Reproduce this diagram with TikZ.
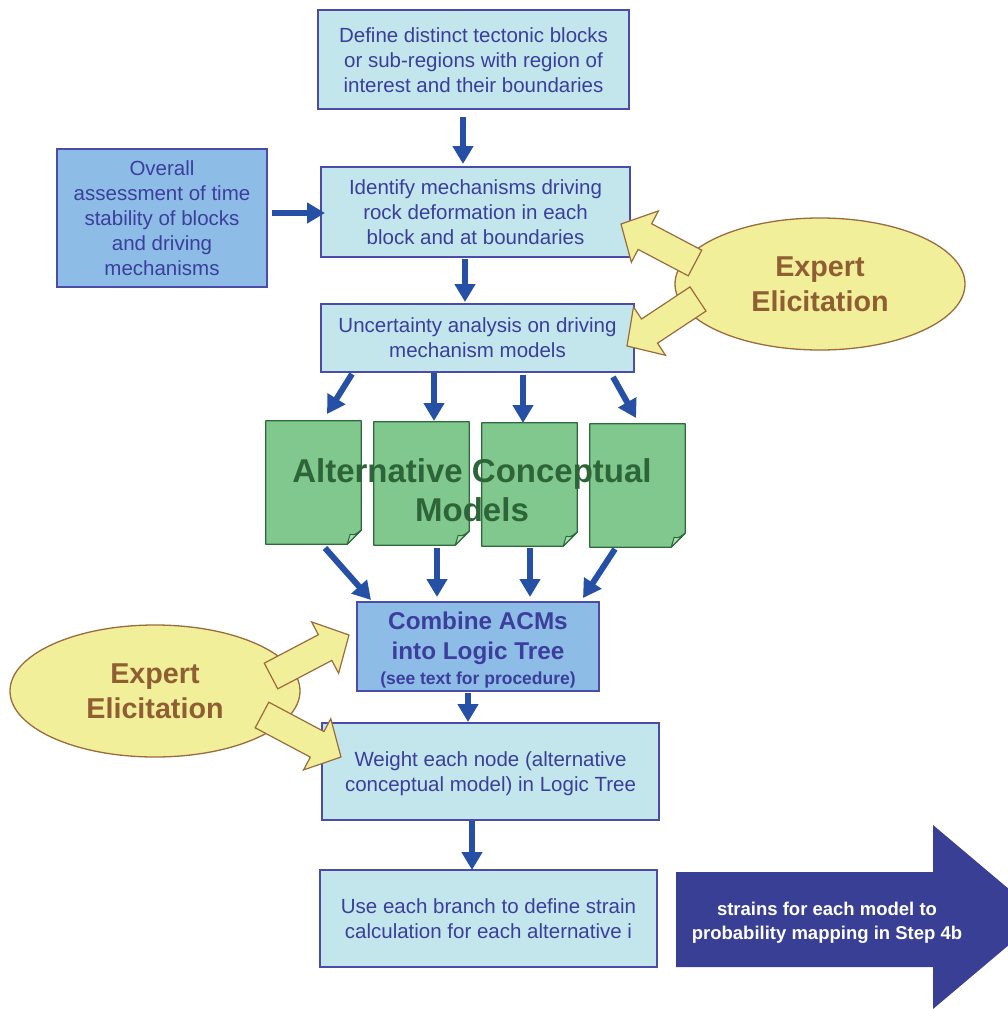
\documentclass[tikz,border=0pt]{standalone}
\usepackage{fontspec}
\setmainfont{Liberation Sans}
\usetikzlibrary{calc,arrows.meta,shapes.geometric}
\definecolor{cyanfill}{HTML}{C2E6EC}
\definecolor{midfill}{HTML}{8DBDE6}
\definecolor{boxline}{HTML}{4A4CA8}
\definecolor{boxtext}{HTML}{3C3E9C}
\definecolor{docfill}{HTML}{80C88E}
\definecolor{docline}{HTML}{2E6B3A}
\definecolor{foldfill}{HTML}{A8DDB2}
\definecolor{doctext}{HTML}{2D6438}
\definecolor{ellfill}{HTML}{F2EF9A}
\definecolor{ellline}{HTML}{9A6B3C}
\definecolor{elltext}{HTML}{8F5E33}
\definecolor{conn}{HTML}{2650A6}
\definecolor{bigarrow}{HTML}{3A3F96}
\tikzset{
  basebox/.style={draw=boxline, line width=1.5pt, inner sep=0pt, align=center, text=boxtext,
    font=\fontsize{20.5}{25}\selectfont},
  cbox/.style={basebox, fill=cyanfill},
  mbox/.style={basebox, fill=midfill},
  docnode/.style={inner sep=0pt, minimum width=95pt, minimum height=123pt},
  docst/.style={fill=docfill, draw=docline, line width=1.3pt, line join=round},
  foldst/.style={fill=foldfill, draw=docline, line width=1pt, line join=round},
  ell/.style={ellipse, draw=ellline, fill=ellfill, line width=1.3pt, minimum width=290pt,
    minimum height=132pt, inner sep=0pt, align=center, text=elltext,
    font=\fontsize{28.7}{35}\selectfont\bfseries},
  yarr/.style={fill=ellfill, draw=ellline, line width=1.2pt, line join=miter},
  conn/.style={draw=conn, line width=6pt, -{Triangle[length=18pt,width=20pt]}},
}
\newcommand{\docshape}[1]{%
  \draw[docst] (#1.north west) -- (#1.north east) -- ([yshift=14pt]#1.south east)
    -- ([xshift=-14pt]#1.south east) -- (#1.south west) -- cycle;
  \draw[foldst] ([yshift=14pt]#1.south east) .. controls ([xshift=-7pt,yshift=9pt]#1.south east)
    .. ([xshift=-11pt,yshift=10pt]#1.south east) -- ([xshift=-14pt]#1.south east) -- cycle;}
\newcommand{\yblock}[2]{%
  \coordinate (yh) at ($(#2)!27pt!(#1)$);
  \draw[yarr] ($(#1)!14.5pt!90:(#2)$) -- ($(yh)!14.5pt!-90:(#1)$) -- ($(yh)!29pt!-90:(#1)$)
    -- (#2) -- ($(yh)!29pt!90:(#1)$) -- ($(yh)!14.5pt!90:(#1)$) -- ($(#1)!14.5pt!-90:(#2)$) -- cycle;}
\begin{document}
\begin{tikzpicture}[x=1pt,y=-1pt]
\useasboundingbox (0,0) rectangle (1008,1009);
\begin{scope}
\clip (0,0) rectangle (1008,1009);
% boxes
\node[cbox, minimum width=311pt, minimum height=99pt] (b1) at (473.5,59.5)
  {\rule{0pt}{17pt}Define distinct tectonic blocks\\or sub-regions with region of\\interest and their boundaries};
\node[cbox, minimum width=309pt, minimum height=90pt] (b2) at (475.5,212)
  {Identify mechanisms driving\\rock deformation in each\\block and at boundaries};
\node[mbox, minimum width=210pt, minimum height=138pt] (lb) at (162,218)
  {Overall\\assessment of time\\stability of blocks\\and driving\\mechanisms};
\node[cbox, minimum width=313pt, minimum height=68pt] (b3) at (477.5,338)
  {Uncertainty analysis on driving\\mechanism models};
\node[mbox, minimum width=242pt, minimum height=89pt] (cb) at (478,646.5) {};
\node[align=center, text=boxtext, font=\fontsize{24.3}{30}\selectfont\bfseries] (cbt) at (478,650.5)
  {Combine ACMs\\into Logic Tree\\[-5pt]\fontsize{17.5}{18}\selectfont (see text for procedure)};
\node[cbox, minimum width=337pt, minimum height=97pt] (wb) at (490.5,771.5)
  {\rule{0pt}{19pt}Weight each node (alternative\\conceptual model) in Logic Tree};
\node[cbox, minimum width=337pt, minimum height=97pt] (ub) at (488.5,918.5)
  {Use each branch to define strain\\calculation for each alternative i};
% documents
\node[docnode] (d1) at (313.5,482.5) {};
\node[docnode] (d2) at (421.5,483.5) {};
\node[docnode] (d3) at (529.5,484.5) {};
\node[docnode] (d4) at (637.5,485.5) {};
\docshape{d1}\docshape{d2}\docshape{d3}\docshape{d4}
\node[align=center, text=doctext, font=\fontsize{33}{39}\selectfont\bfseries] (acm) at (472,490)
  {Alternative Conceptual\\Models};
% ellipses
\node[ell] (e1) at (820,284) {Expert\\Elicitation};
\node[ell] (e2) at (155,691) {Expert\\Elicitation};
% yellow block arrows
\coordinate (t1) at (695,263); \coordinate (p1) at (621,224);
\coordinate (t2) at (698,299); \coordinate (p2) at (627,346);
\coordinate (t3) at (271,676); \coordinate (p3) at (349,635);
\coordinate (t4) at (262,715); \coordinate (p4) at (341,757);
\yblock{t1}{p1}
\yblock{t2}{p2}
\yblock{t3}{p3}
\yblock{t4}{p4}
% blue connectors
\draw[conn] (463,117) -- (463,164);
\draw[conn] (272,213) -- (325,213);
\draw[conn] (465,259) -- (465,302);
\draw[conn] (352,374) -- (327,414);
\draw[conn] (434,373) -- (434,421);
\draw[conn] (523,375) -- (523,423);
\draw[conn] (613,377) -- (636,418);
\draw[conn] (325,548) -- (371,600);
\draw[conn] (437,548) -- (437,597);
\draw[conn] (530,548) -- (530,597);
\draw[conn] (615,549) -- (583,598);
\draw[conn] (468,693) -- (468,722);
\draw[conn] (472,821) -- (472,870);
% big arrow
\fill[bigarrow] (676,872) -- (933,872) -- (933,825) -- (1042,917) -- (933,1009)
  -- (933,967) -- (676,967) -- cycle;
\node[align=center, text=white, font=\fontsize{18.5}{24}\selectfont\bfseries] (ba) at (827,923)
  {strains for each model to\\probability mapping in Step 4b};
\end{scope}
\end{tikzpicture}
\end{document}
